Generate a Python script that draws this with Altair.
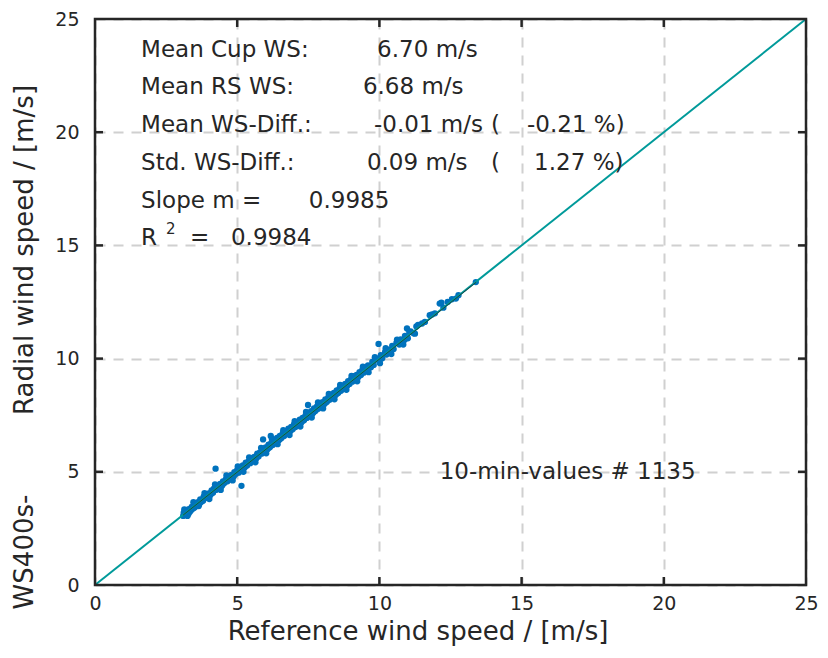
import altair as alt
import pandas as pd

# ---- scatter data (reference cup wind speed vs radial wind speed) ----
ref_ws = [3.10, 3.12, 3.15, 3.20, 3.22, 3.25, 3.30, 3.33, 3.38, 3.40, 3.45, 3.50, 3.52, 3.58, 3.62,
          3.66, 3.70, 3.75, 3.80, 3.82, 3.88, 3.92, 3.96, 4.00, 4.05, 4.10, 4.15, 4.18, 4.24, 4.25,
          4.30, 4.35, 4.40, 4.45, 4.50, 4.55, 4.60, 4.66, 4.70, 4.75, 4.80, 4.86, 4.90, 4.95, 5.00,
          5.05, 5.10, 5.15, 5.15, 5.20, 5.25, 5.30, 5.35, 5.40, 5.46, 5.50, 5.55, 5.60, 5.66, 5.70,
          5.75, 5.80, 5.86, 5.91, 5.90, 5.95, 6.00, 6.05, 6.10, 6.15, 6.18, 6.20, 6.25, 6.30, 6.35,
          6.40, 6.45, 6.50, 6.55, 6.60, 6.65, 6.70, 6.75, 6.80, 6.85, 6.90, 6.95, 7.00, 7.05, 7.10,
          7.15, 7.20, 7.25, 7.30, 7.35, 7.40, 7.45, 7.49, 7.50, 7.55, 7.60, 7.65, 7.70, 7.75, 7.80,
          7.85, 7.90, 7.95, 8.00, 8.05, 8.10, 8.15, 8.20, 8.25, 8.30, 8.35, 8.40, 8.45, 8.50, 8.55,
          8.60, 8.65, 8.70, 8.75, 8.80, 8.85, 8.90, 8.95, 9.00, 9.05, 9.10, 9.15, 9.20, 9.25, 9.30,
          9.35, 9.40, 9.45, 9.50, 9.55, 9.60, 9.70, 9.75, 9.80, 9.90, 9.97, 10.00, 10.05, 10.10, 10.20,
          10.25, 10.30, 10.40, 10.45, 10.50, 10.60, 10.70, 10.75, 10.80, 10.90, 10.97, 11.00, 11.10, 11.20, 11.30,
          11.36, 11.50, 11.60, 11.77, 11.85, 11.95, 12.12, 12.18, 12.25, 12.40, 12.55, 12.69, 12.78, 13.39,
          3.18, 3.35, 3.55, 3.72, 3.90, 4.08, 4.28, 4.48, 4.68, 4.88, 5.08, 5.28, 5.48, 5.68, 5.88,
          6.08, 6.28, 6.48, 6.68, 6.88, 7.08, 7.28, 7.48, 7.68, 7.88, 8.08, 8.28, 8.48, 8.68, 8.88,
          9.08, 9.28, 9.48, 9.68, 9.88, 10.08, 10.28, 10.48, 10.68, 10.88,
          3.14, 3.28, 3.46, 3.64, 3.85, 4.02, 4.22, 4.42, 4.62, 4.84, 5.02, 5.22, 5.42, 5.64, 5.84,
          6.02, 6.22, 6.42, 6.62, 6.84, 7.02, 7.22, 7.42, 7.62, 7.84, 8.02, 8.22, 8.42, 8.62, 8.84,
          9.02, 9.22, 9.42, 9.62, 9.84, 10.02, 10.22, 10.42, 10.62, 10.84, 11.05, 11.25]
radial_ws = [3.05, 3.20, 3.10, 3.28, 3.15, 3.05, 3.35, 3.22, 3.30, 3.45, 3.38, 3.42, 3.58, 3.50, 3.66,
             3.55, 3.78, 3.70, 3.72, 3.90, 3.84, 3.98, 3.88, 4.05, 3.96, 4.18, 4.08, 4.25, 5.14, 4.20,
             4.38, 4.28, 4.46, 4.36, 4.58, 4.50, 4.66, 4.58, 4.80, 4.68, 4.86, 4.78, 4.98, 4.90, 5.08,
             4.96, 5.22, 4.38, 5.08, 5.28, 5.18, 5.40, 5.28, 5.46, 5.38, 5.60, 5.48, 5.66, 5.58, 5.80,
             5.68, 5.86, 5.80, 6.43, 5.98, 5.88, 6.08, 5.98, 6.20, 6.08, 6.58, 6.28, 6.18, 6.40, 6.28,
             6.50, 6.38, 6.58, 6.48, 6.70, 6.58, 6.78, 6.68, 6.90, 6.78, 6.98, 6.88, 7.10, 6.98, 7.18,
             7.08, 7.30, 7.18, 7.38, 7.28, 7.48, 7.38, 7.95, 7.60, 7.48, 7.68, 7.58, 7.80, 7.68, 7.88,
             7.78, 8.00, 7.88, 8.08, 7.98, 8.20, 8.08, 8.28, 8.18, 8.40, 8.28, 8.48, 8.38, 8.60, 8.48,
             8.68, 8.58, 8.80, 8.68, 8.88, 8.78, 9.00, 8.88, 9.08, 8.98, 9.22, 9.08, 9.28, 9.18, 9.40,
             9.28, 9.50, 9.38, 9.60, 9.48, 9.70, 9.62, 9.85, 9.72, 10.00, 10.65, 9.92, 10.15, 10.02, 10.30,
             10.18, 10.40, 10.32, 10.56, 10.42, 10.70, 10.62, 10.85, 10.72, 11.00, 11.33, 10.90, 11.20, 11.12, 11.42,
             11.49, 11.55, 11.62, 11.92, 11.95, 12.00, 12.43, 12.47, 12.25, 12.50, 12.62, 12.65, 12.80, 13.38,
             3.26, 3.32, 3.62, 3.66, 3.98, 4.02, 4.36, 4.42, 4.76, 4.82, 5.16, 5.22, 5.56, 5.62, 5.96,
             6.02, 6.36, 6.42, 6.76, 6.82, 7.16, 7.22, 7.56, 7.62, 7.96, 8.02, 8.36, 8.42, 8.76, 8.82,
             9.16, 9.22, 9.56, 9.62, 9.96, 10.02, 10.36, 10.42, 10.76, 10.82,
             3.34, 3.12, 3.66, 3.48, 4.06, 3.80, 4.44, 4.20, 4.84, 4.62, 5.24, 5.00, 5.64, 5.42, 6.06,
             5.82, 6.46, 6.22, 6.84, 6.62, 7.24, 7.00, 7.64, 7.40, 8.06, 7.80, 8.44, 8.20, 8.84, 8.62,
             9.24, 9.00, 9.64, 9.40, 10.06, 9.80, 10.46, 10.20, 10.84, 10.62, 11.18, 11.10]

# ---- reference lines ----
diag_x = [0, 25]
diag_y = [0, 25]
fit_x = [3.1, 13.4]
fit_y = [3.09, 13.37]

# ---- axes ----
axis_values = [0, 5, 10, 15, 20, 25]
inner_ticks = [5, 10, 15, 20]

# ---- statistics box ----
ann_text = ["Mean Cup WS:", "6.70 m/s",
            "Mean RS WS:", "6.68 m/s",
            "Mean WS-Diff.:", "-0.01 m/s", "(", "-0.21 %)",
            "Std. WS-Diff.:", "0.09 m/s", "(", "1.27 %)",
            "Slope m =", "0.9985",
            "R", "=", "0.9984"]
ann_x = [1.62, 9.92,
         1.62, 9.42,
         1.62, 9.81, 13.92, 15.19,
         1.62, 9.56, 13.92, 15.44,
         1.62, 7.52,
         1.62, 3.34, 4.78]
ann_y = [23.33, 23.33,
         21.67, 21.67,
         20.0, 20.0, 20.0, 20.0,
         18.33, 18.33, 18.33, 18.33,
         16.67, 16.67,
         15.0, 15.0, 15.0]
sup_text = ["2"]
sup_x = [2.5]
sup_y = [15.5]
count_text = ["10-min-values # 1135"]
count_x = [12.12]
count_y = [5.0]

FONT = "DejaVu Sans"
TXT = "#262626"
W, H = 711, 566

xs = alt.Scale(domain=[0, 25], nice=False, zero=False)
ys = alt.Scale(domain=[0, 25], nice=False, zero=False)


def X(field):
    return alt.X(field, type="quantitative", scale=xs, title=None,
                 axis=alt.Axis(values=axis_values, labelPadding=9))


def Y(field):
    return alt.Y(field, type="quantitative", scale=ys, title=None,
                 axis=alt.Axis(values=axis_values, labelPadding=16))


pts = pd.DataFrame({"ref": ref_ws, "rad": radial_ws})
base_pts = alt.Chart(pts).mark_circle(size=40, color="#0072BD", opacity=1).encode(
    x=X("ref"), y=Y("rad"))

diag = alt.Chart(pd.DataFrame({"x": diag_x, "y": diag_y})).mark_line(
    color="#009a9a", strokeWidth=2).encode(x=X("x"), y=Y("y"))

fit = alt.Chart(pd.DataFrame({"x": fit_x, "y": fit_y})).mark_line(
    color="#1d3b3b", strokeWidth=0.9).encode(x=X("x"), y=Y("y"))

tk = pd.DataFrame({"t": inner_ticks})
tick_style = dict(color=TXT, strokeWidth=2.5)
t_bottom = alt.Chart(tk).mark_rule(**tick_style).encode(
    x=X("t"), y=alt.value(H), y2=alt.value(H - 8))
t_top = alt.Chart(tk).mark_rule(**tick_style).encode(
    x=X("t"), y=alt.value(0), y2=alt.value(8))
t_left = alt.Chart(tk).mark_rule(**tick_style).encode(
    y=Y("t"), x=alt.value(0), x2=alt.value(8))
t_right = alt.Chart(tk).mark_rule(**tick_style).encode(
    y=Y("t"), x=alt.value(W), x2=alt.value(W - 8))

one = pd.DataFrame({"k": [0]})
frame = alt.Chart(one).mark_rect(filled=False, stroke=TXT, strokeWidth=2.5).encode(
    x=alt.value(0), x2=alt.value(W), y=alt.value(0), y2=alt.value(H))

ann = alt.Chart(pd.DataFrame({"x": ann_x, "y": ann_y, "t": ann_text})).mark_text(
    align="left", baseline="alphabetic", font=FONT, fontSize=23, color=TXT).encode(
    x=X("x"), y=Y("y"), text="t:N")

sup = alt.Chart(pd.DataFrame({"x": sup_x, "y": sup_y, "t": sup_text})).mark_text(
    align="left", baseline="alphabetic", font=FONT, fontSize=15, color=TXT).encode(
    x=X("x"), y=Y("y"), text="t:N")

cnt = alt.Chart(pd.DataFrame({"x": count_x, "y": count_y, "t": count_text})).mark_text(
    align="left", baseline="middle", font=FONT, fontSize=23, color=TXT).encode(
    x=X("x"), y=Y("y"), text="t:N")

xtitle = alt.Chart(one).mark_text(
    align="center", baseline="middle", font=FONT, fontSize=26, color=TXT).encode(
    x=alt.value(323), y=alt.value(613), text=alt.value("Reference wind speed / [m/s]"))
ytitle1 = alt.Chart(one).mark_text(
    align="center", baseline="middle", font=FONT, fontSize=26, color=TXT, angle=270).encode(
    x=alt.value(-70), y=alt.value(231), text=alt.value("Radial wind speed / [m/s]"))
ytitle2 = alt.Chart(one).mark_text(
    align="center", baseline="middle", font=FONT, fontSize=26, color=TXT, angle=270).encode(
    x=alt.value(-70), y=alt.value(533), text=alt.value("WS400s-"))

chart = alt.layer(
    base_pts, diag, fit, frame, t_bottom, t_top, t_left, t_right, ann, sup, cnt,
    xtitle, ytitle1, ytitle2
).properties(
    width=W, height=H,
    autosize=alt.AutoSizeParams(type="none"),
    padding={"left": 87, "top": 11, "right": 14, "bottom": 61},
    background="white",
).configure_view(
    strokeWidth=0
).configure_axis(
    ticks=False, domain=False, grid=True,
    gridDash=[10, 8], gridColor="#d0d0d0", gridWidth=2,
    labelFont=FONT, labelFontSize=19, labelColor=TXT, labelFlush=False,
)

chart.save("out.html", embed_options={"renderer": "svg", "actions": False})
